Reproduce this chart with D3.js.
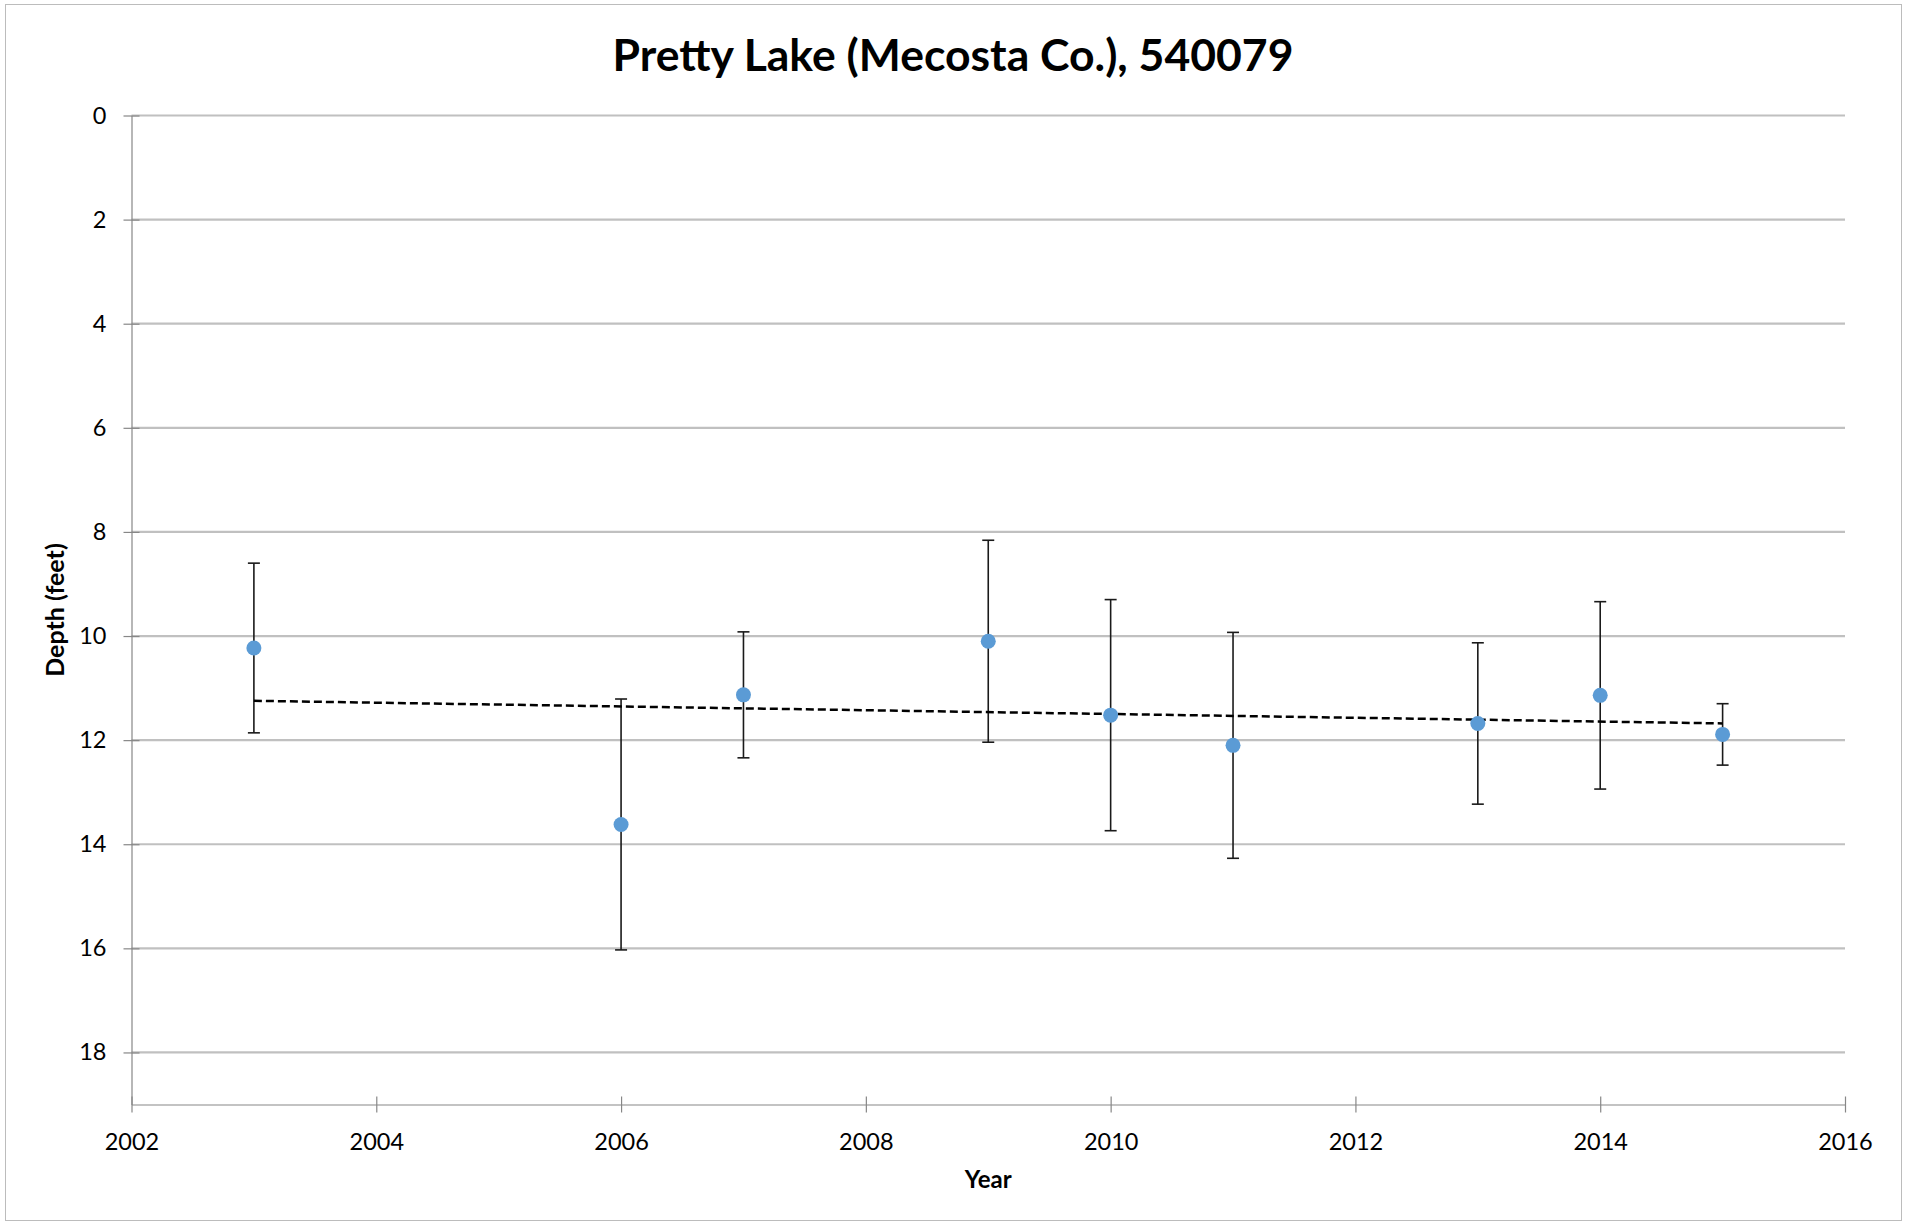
<!DOCTYPE html>
<html>
<head>
<meta charset="utf-8">
<script src="https://cdn.jsdelivr.net/npm/d3@7"></script>
<style>
  html, body { margin: 0; padding: 0; background: #fff; }
  svg { display: block; font-family: Lato, "Open Sans", "DejaVu Sans", sans-serif; }
</style>
</head>
<body>
<svg id="chart" width="1906" height="1225"></svg>
<script>
// ---- data ----
const title = "Pretty Lake (Mecosta Co.), 540079";
const xAxisTitle = "Year";
const yAxisTitle = "Depth (feet)";
const years = [2003, 2006, 2007, 2009, 2010, 2011, 2013, 2014, 2015];
const depths = [10.23, 13.62, 11.13, 10.10, 11.52, 12.10, 11.68, 11.14, 11.89];
const errors = [1.63, 2.41, 1.21, 1.94, 2.22, 2.17, 1.55, 1.80, 0.59];
const xTicks = [2002, 2004, 2006, 2008, 2010, 2012, 2014, 2016];
const yTicks = [0, 2, 4, 6, 8, 10, 12, 14, 16, 18];

// ---- layout ----
const svg = d3.select("#chart");
const W = 1906;
const plotL = 131.5, plotR = 1845, plotT = 115.5, plotB = 1104.5;

svg.append("rect").attr("x", 5.5).attr("y", 4.5).attr("width", 1896).attr("height", 1216)
  .attr("fill", "#fff").attr("stroke", "#bcbcbc").attr("stroke-width", 1);

const x = d3.scaleLinear().domain([2002, 2016]).range([plotL, plotR]);
const y = d3.scaleLinear().domain([0, 19]).range([plotT, plotB]);

// gridlines
svg.append("g").selectAll("line").data(yTicks).join("line")
  .attr("x1", plotL).attr("x2", plotR)
  .attr("y1", d => y(d)).attr("y2", d => y(d))
  .attr("stroke", "#c0c0c0").attr("stroke-width", 2.2);

// y axis
const yAxis = svg.append("g").attr("transform", `translate(${plotL},0)`)
  .call(d3.axisLeft(y).tickValues(yTicks).tickSize(8).tickPadding(17).tickSizeOuter(0));
yAxis.select(".domain").attr("stroke", "#878787").attr("stroke-width", 1.2);
yAxis.selectAll(".tick line").attr("stroke", "#878787").attr("stroke-width", 1.2).attr("x2", -8).attr("x1", 8);
yAxis.selectAll(".tick text").attr("font-size", 23.5).attr("fill", "#000")
  .attr("font-family", "Lato, sans-serif");

// x axis
const xAxis = svg.append("g").attr("transform", `translate(0,${plotB})`)
  .call(d3.axisBottom(x).tickValues(xTicks).tickFormat(d3.format("d")).tickSize(8).tickPadding(21).tickSizeOuter(0));
xAxis.select(".domain").attr("stroke", "#878787").attr("stroke-width", 1.2);
xAxis.selectAll(".tick line").attr("stroke", "#878787").attr("stroke-width", 1.2).attr("y1", -8).attr("y2", 8);
xAxis.selectAll(".tick text").attr("font-size", 23.5).attr("fill", "#000")
  .attr("font-family", "Lato, sans-serif");

// error bars
const eb = svg.append("g").attr("stroke", "#1a1a1a").attr("stroke-width", 1.6);
years.forEach((yr, i) => {
  const cx = x(yr);
  const y1 = y(depths[i] - errors[i]), y2 = y(depths[i] + errors[i]);
  eb.append("line").attr("x1", cx).attr("x2", cx).attr("y1", y1).attr("y2", y2);
  eb.append("line").attr("x1", cx - 6).attr("x2", cx + 6).attr("y1", y1).attr("y2", y1);
  eb.append("line").attr("x1", cx - 6).attr("x2", cx + 6).attr("y1", y2).attr("y2", y2);
});

// linear trendline (least squares)
const mx = d3.mean(years), my = d3.mean(depths);
let sxy = 0, sxx = 0;
years.forEach((yr, i) => { sxy += (yr - mx) * (depths[i] - my); sxx += (yr - mx) * (yr - mx); });
const slope = sxy / sxx, icpt = my - slope * mx;
const xa = d3.min(years), xb = d3.max(years);
svg.append("line")
  .attr("x1", x(xa)).attr("y1", y(icpt + slope * xa))
  .attr("x2", x(xb)).attr("y2", y(icpt + slope * xb))
  .attr("stroke", "#000").attr("stroke-width", 2.5).attr("stroke-dasharray", "8,4");

// points
svg.append("g").selectAll("circle").data(years).join("circle")
  .attr("cx", d => x(d)).attr("cy", (d, i) => y(depths[i])).attr("r", 7.5)
  .attr("fill", "#5b9bd5");

// titles
svg.append("text").attr("x", W / 2).attr("y", 71)
  .attr("text-anchor", "middle").attr("font-size", 44.5).attr("font-weight", "bold")
  .attr("font-family", "Lato, sans-serif").text(title);
svg.append("text").attr("x", (plotL + plotR) / 2).attr("y", 1188)
  .attr("text-anchor", "middle").attr("font-size", 24).attr("font-weight", "bold")
  .attr("font-family", "Lato, sans-serif").text(xAxisTitle);
svg.append("text").attr("transform", `translate(64,${(plotT + plotB) / 2}) rotate(-90)`)
  .attr("text-anchor", "middle").attr("font-size", 25).attr("font-weight", "bold")
  .attr("font-family", "Lato, sans-serif").text(yAxisTitle);
</script>
</body>
</html>
